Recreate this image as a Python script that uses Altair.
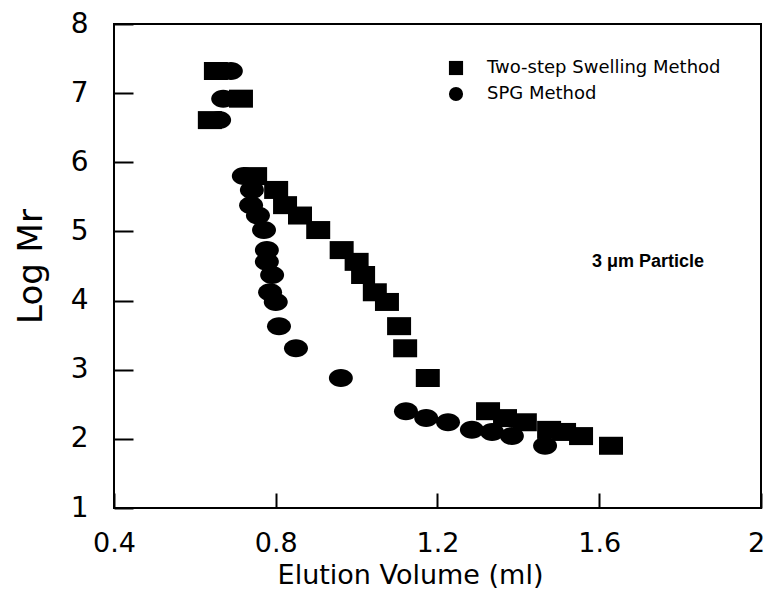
import altair as alt
import pandas as pd

# Data
levels = [7.32, 6.92, 6.61, 5.80, 5.60, 5.38, 5.23, 5.02, 4.73, 4.56, 4.37, 4.12,
          3.98, 3.63, 3.31, 2.88, 2.40, 2.30, 2.24, 2.13, 2.10, 2.04, 1.90]
two_step_x = [0.652, 0.714, 0.637, 0.749, 0.801, 0.823, 0.860, 0.905, 0.963, 1.000,
              1.016, 1.045, 1.075, 1.105, 1.120, 1.176, 1.325, 1.367, 1.416, 1.476,
              1.513, 1.555, 1.629]
spg_x = [0.689, 0.670, 0.660, 0.721, 0.741, 0.739, 0.756, 0.771, 0.778, 0.778,
         0.791, 0.786, 0.800, 0.808, 0.850, 0.961, 1.122, 1.172, 1.226, 1.285,
         1.335, 1.384, 1.466]
series_names = ["Two-step Swelling Method", "SPG Method"]
x_ticks = [0.4, 0.8, 1.2, 1.6, 2.0]
y_ticks = [1, 2, 3, 4, 5, 6, 7, 8]

sq = pd.DataFrame({"v": two_step_x, "logmr": levels, "method": series_names[0]})
ci = pd.DataFrame({"v": spg_x, "logmr": levels, "method": series_names[1]})
both = pd.concat([sq, ci], ignore_index=True)

FONT = "DejaVu Sans"

x_enc = alt.X("v:Q", scale=alt.Scale(domain=[0.4, 2.0], nice=False, zero=False),
              axis=alt.Axis(values=x_ticks, format="~g", title="Elution Volume (ml)",
                            grid=False, domain=False, offset=-15, tickSize=15,
                            tickWidth=2, tickColor="black", labelPadding=22,
                            labelFlush=False, labelOverlap=False,
                            labelOffset={"condition": {"test": "datum.value >= 2", "value": -5},
                                         "value": 0},
                            labelFont=FONT, labelFontSize=27, labelColor="black",
                            titleFont=FONT, titleFontSize=27, titleFontWeight="normal",
                            titleColor="black", titlePadding=6, titleX=296))
y_enc = alt.Y("logmr:Q", scale=alt.Scale(domain=[1, 8], nice=False, zero=False),
              axis=alt.Axis(values=y_ticks, format="d", title="Log Mr",
                            grid=False, domain=False, offset=-19, tickSize=19,
                            tickWidth=2, tickColor="black", labelPadding=26,
                            labelFlush=False, labelOverlap=False,
                            labelFont=FONT, labelFontSize=28, labelColor="black",
                            titleFont=FONT, titleFontSize=34, titleFontWeight="normal",
                            titleColor="black", titlePadding=22))

rect_path = "M-1.333,-1H1.333V1H-1.333Z"
ell_path = "M-1.333,0A1.333,1,0,1,1,1.333,0A1.333,1,0,1,1,-1.333,0Z"

squares = alt.Chart(sq).mark_point(shape=rect_path, filled=True, size=324,
                                   color="black", opacity=1).encode(x=x_enc, y=y_enc)
circles = alt.Chart(ci).mark_point(shape=ell_path, filled=True, size=324,
                                   color="black", opacity=1).encode(x=x_enc, y=y_enc)

legend_layer = alt.Chart(both).mark_point(filled=True, color="black", opacity=0).encode(
    x=x_enc, y=y_enc,
    shape=alt.Shape("method:N",
                    scale=alt.Scale(domain=series_names, range=["square", "circle"]),
                    legend=alt.Legend(title=None, orient="none", legendX=333, legendY=35,
                                      symbolOpacity=1, symbolFillColor="black",
                                      symbolStrokeColor="black", symbolSize=200,
                                      labelFont=FONT, labelFontSize=18, labelLimit=0,
                                      labelColor="black", labelOffset=22,
                                      rowPadding=4, padding=0)))

note = alt.Chart(pd.DataFrame({"t": ["3 \u03bcm Particle"]})).mark_text(
    font="Liberation Sans", fontSize=18, fontWeight="bold", color="black",
    align="center", baseline="alphabetic").encode(
    text="t:N", x=alt.value(534), y=alt.value(243))

chart = alt.layer(legend_layer, squares, circles, note).properties(
    width=647, height=484,
    padding={"left": 106, "top": 16, "right": 5, "bottom": 88},
    autosize="none",
    background="white",
).configure_view(stroke="black", strokeWidth=2)

chart.save("out.html", embed_options={"renderer": "svg", "actions": False})
